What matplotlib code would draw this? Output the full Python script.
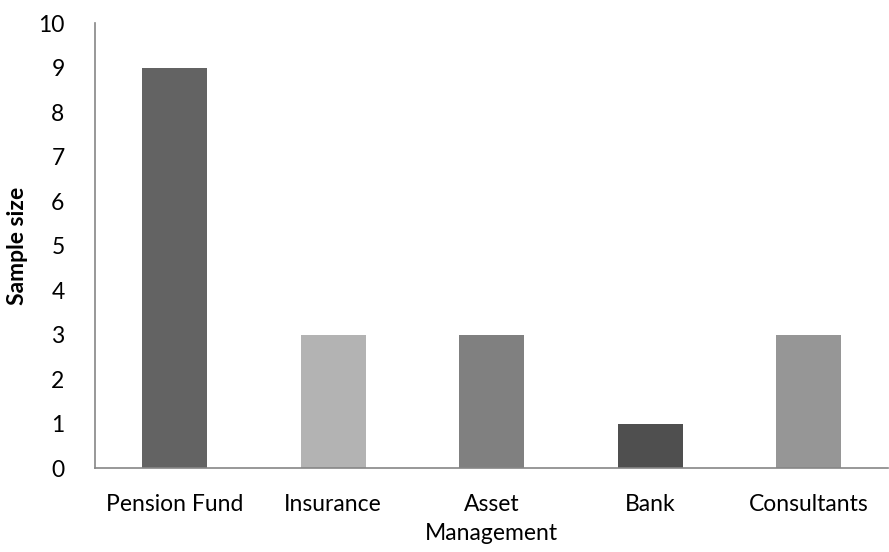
import matplotlib
matplotlib.use('Agg')
import matplotlib.pyplot as plt

plt.rcParams['font.family'] = ['Lato', 'DejaVu Sans']

categories = ['Pension Fund', 'Insurance', 'Asset\nManagement', 'Bank', 'Consultants']
sample_size = [9, 3, 3, 1, 3]
colors = ['#636363', '#b3b3b3', '#808080', '#4f4f4f', '#969696']

fig = plt.figure(figsize=(8.89, 5.52), dpi=100)
ax = fig.add_axes([0.107, 0.152, 0.892, 0.806])

x = range(len(categories))
ax.bar(x, sample_size, width=0.41, color=colors)

ax.set_xlim(-0.5, len(categories) - 0.5)
ax.set_ylim(0, 10)
ax.set_yticks(range(0, 11))
ax.set_xticks(list(x))
ax.set_xticklabels(categories, fontsize=16.5, linespacing=1.45)
ax.tick_params(axis='y', length=0, labelsize=16.5, pad=22)
ax.tick_params(axis='x', length=0, pad=19)

for s in ['top', 'right']:
    ax.spines[s].set_visible(False)
for s in ['left', 'bottom']:
    ax.spines[s].set_color('#868686')
    ax.spines[s].set_linewidth(1.2)

ax.set_ylabel('Sample size', fontsize=16.5, fontweight='bold')
ax.yaxis.set_label_coords(-0.085, 0.5)

fig.savefig('out.png', dpi=100)
